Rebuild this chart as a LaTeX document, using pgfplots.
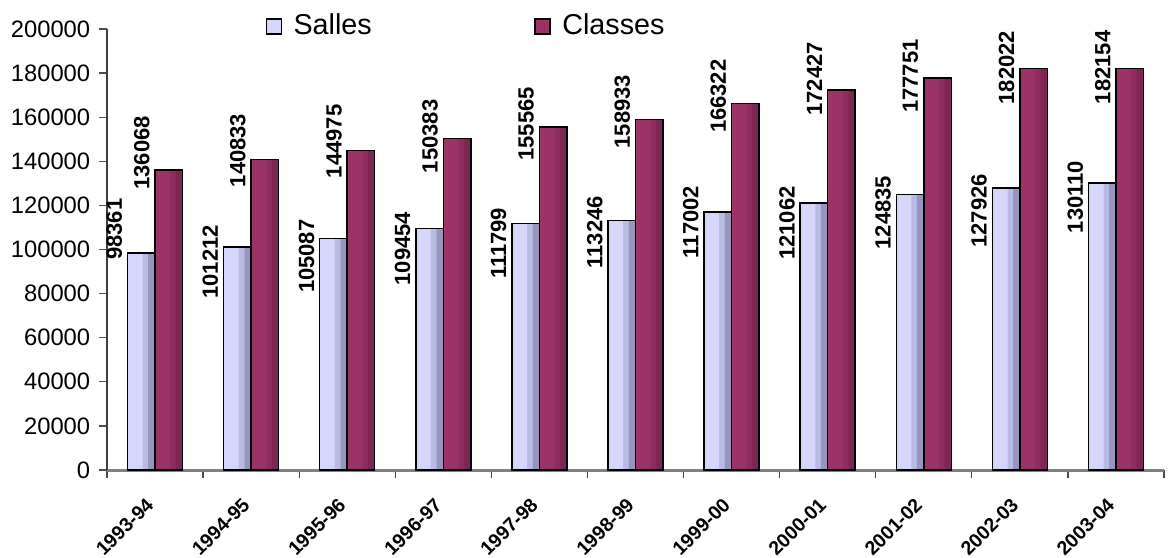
\documentclass[border=0pt]{standalone}
\usepackage{fontspec}
\setmainfont{Liberation Sans}
\usepackage{pgfplots}
\usepackage{pgfplotstable}
\pgfplotsset{compat=1.18}

\definecolor{salles}{RGB}{214,214,250}
\definecolor{sallesmid}{RGB}{186,186,228}
\definecolor{sallesdark}{RGB}{150,150,192}
\definecolor{classes}{RGB}{155,51,102}
\definecolor{classesmid}{RGB}{142,45,94}
\definecolor{classesdark}{RGB}{126,38,82}

\pgfplotsset{
  boxlegend/.style={legend image code/.code={\draw[draw=black, fill=#1, line width=0.6pt] (0pt,-3pt) rectangle (6pt,3pt);}},
  band/.style={ybar, draw=none, forget plot},
}
\tikzset{
  lab/.style={font=\fontsize{8.8}{10}\selectfont\bfseries, text=black, xshift=#1, yshift={-0.4pt*(\dy)}, rotate=90, anchor=center},
}

% dys, dyc: label centre below the bar top, in pixels of the reference
\pgfplotstableread{
x salles dys classes dyc
0 98361  -24 136068 -17
1 101212  15 140833  -9
2 105087  18 144975  -9
3 109454  20 150383  -2
4 111799  20 155565  -3
5 113246  12 158933  -8
6 117002  10 166322  -7
7 121062  20 172427 -11
8 124835  18 177751  -2
9 127926  23 182022  -1
10 130110 14 182154  -1
}\data

\begin{document}
\begin{tikzpicture}
\useasboundingbox (-42.8pt,-34.8pt) rectangle (427.2pt,188pt);
\begin{axis}[
  at={(0pt,0pt)}, anchor=south west,
  scale only axis, width=422.8pt, height=176.4pt,
  xmin=-0.5, xmax=10.5, ymin=0, ymax=200000,
  xtick={0,...,10},
  xticklabels={1993-94,1994-95,1995-96,1996-97,1997-98,1998-99,1999-00,2000-01,2001-02,2002-03,2003-04},
  minor xtick={-0.5,0.5,...,10.5},
  ytick={0,20000,...,200000},
  scaled y ticks=false,
  /pgf/number format/.cd, fixed, precision=0, 1000 sep={}, assume math mode=true, /pgfplots/.cd,
  axis lines*=left,
  axis line style={-},
  x axis line style={draw=gray, line width=1.2pt},
  y axis line style={draw=black!75, line width=0.5pt},
  tick pos=left,
  tick align=outside,
  major tick length=3.2pt,
  minor tick length=3pt,
  tick style={draw=black!70, line width=0.5pt},
  major x tick style={draw=none},
  yticklabel style={font=\fontsize{9.5}{11}\selectfont},
  xticklabel style={font=\fontsize{7.8}{9}\selectfont\bfseries, inner sep=0.5pt, xshift=-4pt, yshift=-6.5pt, rotate=45, anchor=north east},
  legend style={at={(0.1495,1.006)}, anchor=west, draw=none, fill=none, inner sep=0pt,
    legend columns=2, font=\fontsize{11.5}{13}\selectfont,
    /tikz/every odd column/.append style={column sep=2.6pt},
    /tikz/every even column/.append style={column sep=63pt}},
]
% Salles: face, shaded bands on the right, outline with labels
\addplot[band, bar width=11pt, bar shift=-5.5pt, fill=salles] table[x=x, y=salles]{\data};
\addplot[band, bar width=2.2pt, bar shift=-3.85pt, fill=sallesmid] table[x=x, y=salles]{\data};
\addplot[band, bar width=2.75pt, bar shift=-1.375pt, fill=sallesdark] table[x=x, y=salles]{\data};
\addplot[ybar, bar width=11pt, bar shift=-5.5pt, draw=black, fill=none, line width=0.6pt,
  nodes near coords={\pgfmathprintnumber{\pgfplotspointmeta}},
  nodes near coords style={lab=-16.3pt},
  visualization depends on={\thisrow{dys}\as\dy}, boxlegend=salles]
  table[x=x, y=salles]{\data};
% Classes
\addplot[band, bar width=11pt, bar shift=5.5pt, fill=classes] table[x=x, y=classes]{\data};
\addplot[band, bar width=2.2pt, bar shift=7.15pt, fill=classesmid] table[x=x, y=classes]{\data};
\addplot[band, bar width=2.75pt, bar shift=9.625pt, fill=classesdark] table[x=x, y=classes]{\data};
\addplot[ybar, bar width=11pt, bar shift=5.5pt, draw=black, fill=none, line width=0.6pt,
  nodes near coords={\pgfmathprintnumber{\pgfplotspointmeta}},
  nodes near coords style={lab=-5.3pt},
  visualization depends on={\thisrow{dyc}\as\dy}, boxlegend=classes]
  table[x=x, y=classes]{\data};
\legend{Salles, Classes}
\end{axis}
\end{tikzpicture}
\end{document}
